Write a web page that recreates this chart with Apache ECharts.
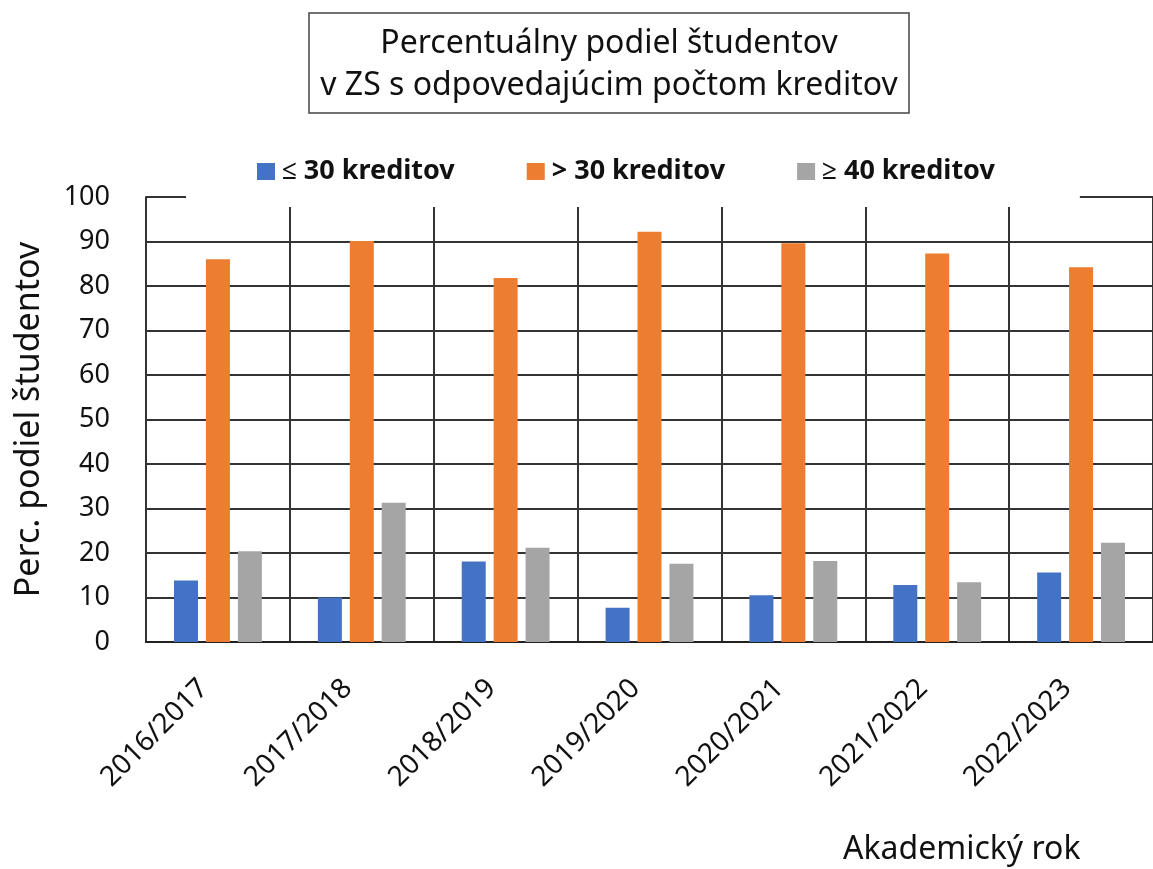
<!DOCTYPE html>
<html>
<head>
<meta charset="utf-8">
<script src="https://cdn.jsdelivr.net/npm/echarts@6/dist/echarts.min.js"></script>
<style>
  html, body { margin: 0; padding: 0; background: #fff; }
  #chart { width: 1153px; height: 869px; }
</style>
</head>
<body>
<div id="chart"></div>
<script>
// akademické roky
const years = ["2016/2017", "2017/2018", "2018/2019", "2019/2020", "2020/2021", "2021/2022", "2022/2023"];
// percentá študentov
const upTo30 = [13.8, 10.0, 18.1, 7.7, 10.5, 12.8, 15.6];
const over30 = [86.0, 90.1, 81.8, 92.2, 89.6, 87.3, 84.2];
const atLeast40 = [20.4, 31.3, 21.2, 17.6, 18.2, 13.4, 22.3];
const seriesNames = ["≤ 30 kreditov", "> 30 kreditov", "≥ 40 kreditov"];

const font = "Noto Sans";
const chart = echarts.init(document.getElementById("chart"));

const bar = (name, data, color) => ({
  name: name,
  type: "bar",
  data: data,
  barWidth: 24,
  barGap: "33%",
  itemStyle: { color: color },
});

chart.setOption({
  animation: false,
  title: [
    {
      text: "Percentuálny podiel študentov\nv ZS s odpovedajúcim počtom kreditov",
      left: 597,
      top: 13,
      textAlign: "center",
      padding: [10, 12, 6, 12],
      borderWidth: 1.5,
      borderColor: "#444",
      textStyle: {
        fontFamily: font,
        fontSize: 32,
        fontWeight: "normal",
        color: "#111",
        lineHeight: 42,
      },
    },
    {
      text: "Akademický rok",
      left: 843,
      top: 834,
      padding: 0,
      textStyle: { fontFamily: font, fontSize: 32, fontWeight: "normal", color: "#111" },
    },
  ],
  legend: {
    data: seriesNames,
    left: 186,
    top: 150,
    padding: [8, 85, 22, 71],
    backgroundColor: "#fff",
    itemWidth: 18,
    itemHeight: 17,
    itemGap: 72,
    icon: "rect",
    z: 10,
    textStyle: { fontFamily: font, fontSize: 27, fontWeight: "bold", color: "#111", padding: [0, 0, 0, 2] },
  },
  grid: { left: 146, right: 0, top: 197, bottom: 227, containLabel: false },
  xAxis: {
    type: "category",
    data: years,
    axisLine: { lineStyle: { color: "#222", width: 2 } },
    axisTick: { show: false },
    splitLine: { show: true, lineStyle: { color: "#333", width: 2 } },
    axisLabel: {
      rotate: 45,
      margin: 28,
      interval: 0,
      padding: [0, 20, 0, 0],
      fontFamily: font,
      fontSize: 28,
      color: "#111",
    },
  },
  yAxis: {
    type: "value",
    min: 0,
    max: 100,
    interval: 10,
    name: "Perc. podiel študentov",
    nameLocation: "middle",
    nameGap: 100,
    nameTextStyle: { fontFamily: font, fontSize: 34, color: "#111" },
    axisLine: { show: true, lineStyle: { color: "#333", width: 2 } },
    axisTick: { show: false },
    splitLine: { lineStyle: { color: "#333", width: 2 } },
    axisLabel: { margin: 36, fontFamily: font, fontSize: 27, color: "#111" },
  },
  series: [
    bar(seriesNames[0], upTo30, "#4472C4"),
    bar(seriesNames[1], over30, "#ED7D31"),
    bar(seriesNames[2], atLeast40, "#A5A5A5"),
  ],
});
</script>
</body>
</html>
